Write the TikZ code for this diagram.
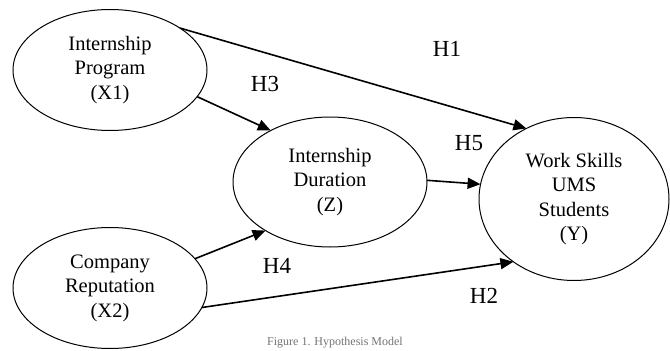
\documentclass[tikz,border=0pt]{standalone}
\usepackage{fontspec}
\setmainfont{Liberation Serif}
\usetikzlibrary{arrows.meta, shapes.geometric}

\begin{document}
\begin{tikzpicture}[
  x = 1pt,
  y = -1pt,
  construct/.style = {
    shape = ellipse,
    draw = black,
    line width = 1pt,
    inner sep = 0pt,
    outer sep = 0pt,
    align = center,
    font = \fontsize{20.5}{24.5}\selectfont,
  },
  hypo/.style = {
    font = \fontsize{23}{25}\selectfont,
  },
  effect/.style = {
    line width = 1.6pt,
    -{Triangle[length = 13pt, width = 11pt]},
  }
]
  \useasboundingbox (0, 0) rectangle (670, 351);

  \node[construct, minimum width = 194pt, minimum height = 121pt] (prog) at (110, 70)
    {Internship\\Program\\(X1)};
  \node[construct, minimum width = 194pt, minimum height = 121pt] (rep) at (110, 288)
    {Company\\Reputation\\(X2)};
  \node[construct, minimum width = 194pt, minimum height = 130pt] (dur) at (330, 182)
    {Internship\\Duration\\(Z)};
  \node[construct, minimum width = 190pt, minimum height = 163pt] (skill) at (574, 199)
    {Work Skills\\UMS\\Students\\(Y)};

  \draw[effect] (prog.31.6) -- (skill.124);
  \draw[effect] (prog.-17) -- (dur.139);
  \draw[effect] (rep.19) -- (dur.217);
  \draw[effect] (rep.-12) -- (skill.226);
  \draw[effect] (dur.1) -- (skill.171);

  \node[hypo] (h1) at (447, 49) {H1};
  \node[hypo] (h3) at (265, 84) {H3};
  \node[hypo] (h5) at (469, 143) {H5};
  \node[hypo] (h4) at (277, 266) {H4};
  \node[hypo] (h2) at (484, 296) {H2};

  \node[text = black!55, font = \fontsize{12}{14}\selectfont] (caption) at (335, 343)
    {Figure 1. Hypothesis Model};
\end{tikzpicture}
\end{document}
